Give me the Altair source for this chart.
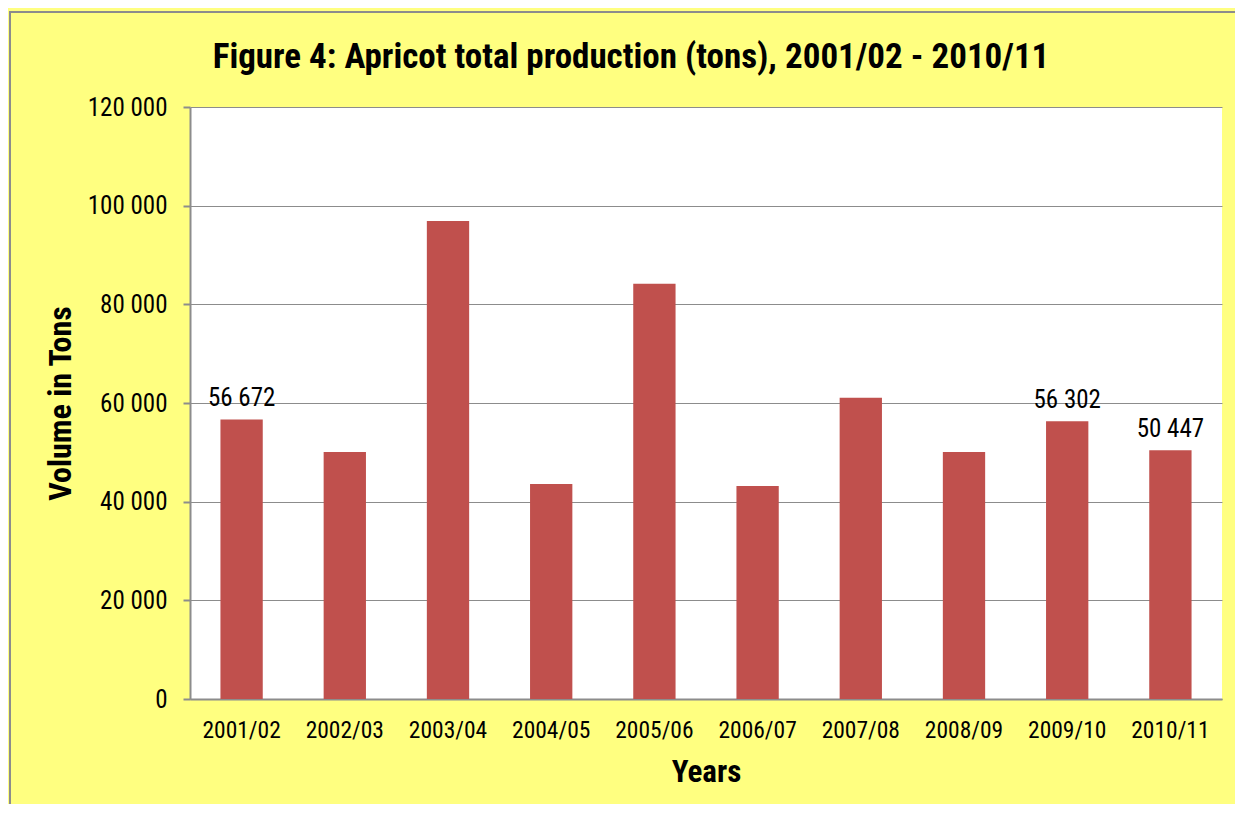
import altair as alt
import pandas as pd

years = ["2001/02", "2002/03", "2003/04", "2004/05", "2005/06",
         "2006/07", "2007/08", "2008/09", "2009/10", "2010/11"]
volumes = [56672, 50050, 96900, 43600, 84150, 43200, 61050, 50050, 56302, 50447]
labelled = [True, False, False, False, False, False, False, False, True, True]

df = pd.DataFrame({"Year": years, "Volume": volumes, "Labelled": labelled})

FONT = "Liberation Sans Narrow, Arial Narrow, Roboto Condensed, sans-serif"
BAR = "#C0504D"
GRID = "#8C8C8C"

x_enc = alt.X("Year:N", sort=years,
              scale=alt.Scale(paddingInner=0.59, paddingOuter=0.295),
              axis=alt.Axis(title="Years", labelAngle=0, labelFontSize=23.5,
                            labelFont=FONT, labelColor="#000000", labelPadding=19,
                            ticks=False, domainColor=GRID, domainWidth=2,
                            titleFont=FONT, titleFontSize=31, titleFontWeight="bold",
                            titleColor="#000000", titlePadding=16))

y_enc = alt.Y("Volume:Q",
              scale=alt.Scale(domain=[0, 120000], nice=False),
              axis=alt.Axis(title="Volume in Tons", values=[0, 20000, 40000, 60000, 80000, 100000, 120000],
                            format=",d", labelFontSize=25, labelFont=FONT,
                            labelColor="#000000", labelPadding=16,
                            tickSize=7, tickColor=GRID, tickWidth=2,
                            domainColor=GRID, domainWidth=2,
                            gridColor=GRID, gridWidth=1.2,
                            titleFont=FONT, titleFontSize=32, titleFontWeight="bold",
                            titleColor="#000000", titlePadding=10))

bars = alt.Chart(df).mark_bar(color=BAR).encode(x=x_enc, y=y_enc)

labels = alt.Chart(df).transform_filter(alt.datum.Labelled).mark_text(
    baseline="bottom", dy=-8, fontSize=25, font=FONT, color="#000000"
).encode(x=alt.X("Year:N", sort=years), y="Volume:Q", text=alt.Text("Volume:Q", format=",d"))

border_left = alt.Chart(df).mark_rule(color=GRID, strokeWidth=2).encode(
    x=alt.value(-180), y=alt.value(-95), y2=alt.value(720))
border_top = alt.Chart(df).mark_rule(color=GRID, strokeWidth=2).encode(
    x=alt.value(-181), x2=alt.value(1100), y=alt.value(-95))

chart = alt.layer(bars, labels, border_left, border_top).properties(
    width=1032, height=592,
    autosize=alt.AutoSizeParams(type="none"),
    padding={"left": 182, "top": 99, "right": 13, "bottom": 105},
    background="#FFFF80",
    title=alt.TitleParams("Figure 4: Apricot total production (tons), 2001/02 - 2010/11",
                          font=FONT, fontSize=35, fontWeight="bold", color="#000000",
                          anchor="middle", dx=-75, offset=-64),
).configure(
    locale={"number": {"decimal": ".", "thousands": " ", "grouping": [3], "currency": ["", ""]}},
    view=alt.ViewConfig(fill="#FFFFFF", stroke=None),
)

chart.save("out.html", embed_options={"renderer": "svg", "actions": False})
